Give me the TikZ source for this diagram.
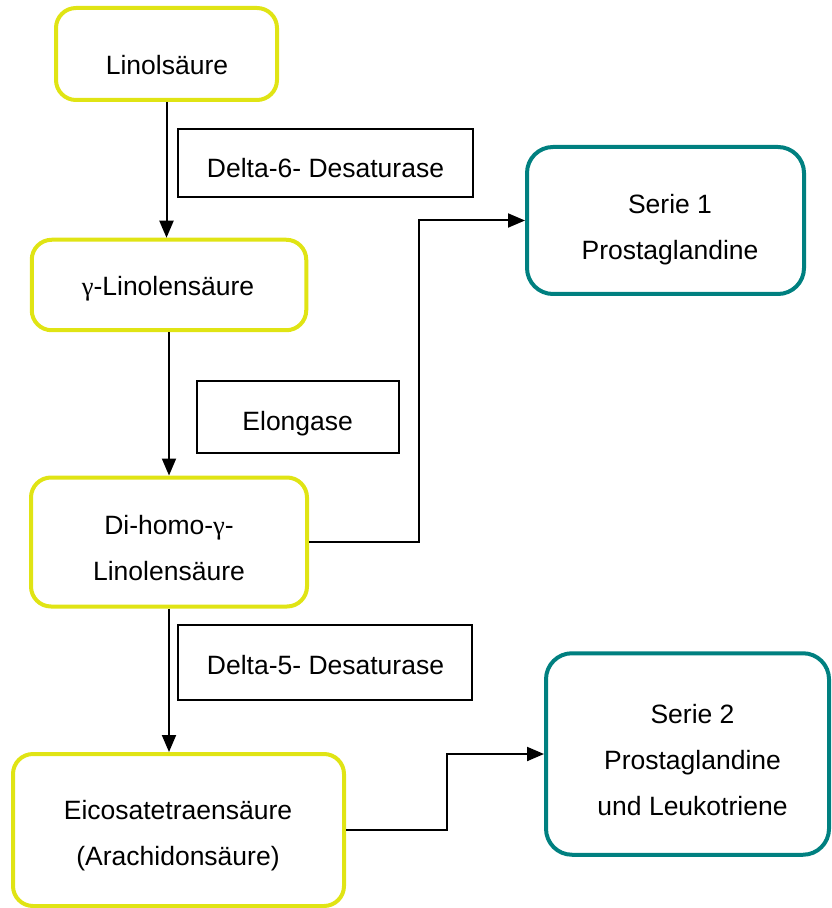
\documentclass[tikz,border=0pt]{standalone}
\usepackage{fontspec}
\setmainfont{Liberation Sans}
\newfontfamily\grkfont{Liberation Serif}
\usepackage{tikz}
\usetikzlibrary{arrows.meta,positioning}
\definecolor{lemon}{RGB}{224,228,20}
\definecolor{tealline}{RGB}{0,128,128}
\newcommand{\ggam}{{\grkfont γ}}
\tikzset{
  acid/.style={draw=lemon, line width=2pt, rounded corners=10pt, inner sep=0pt},
  series/.style={draw=tealline, line width=2pt, rounded corners=13pt, inner sep=0pt},
  enzyme/.style={draw=black, line width=1pt, inner sep=0pt},
  lbl/.style={inner sep=0pt, align=center},
  arr/.style={line width=1pt, -{Triangle[length=8.5pt,width=7pt]}}
}
\begin{document}
\begin{tikzpicture}[x=0.5pt,y=-0.5pt,font=\fontsize{13.25}{23}\selectfont]
\useasboundingbox (0,0) rectangle (831,908);
% Fettsaeuren
\node[acid, minimum width=110.5pt, minimum height=46pt] (lin) at (166.5,54) {};
\node[acid, minimum width=137.25pt, minimum height=45.25pt] (gam) at (169,285) {};
\node[acid, minimum width=138pt, minimum height=64.5pt] (dih) at (169,542) {};
\node[acid, minimum width=165.5pt, minimum height=76pt] (eic) at (178.5,830) {};
\node[lbl, anchor=base] (lintxt) at (167,75) {Linols\"aure};
\node[lbl, anchor=base] (gamtxt) at (168,296) {\ggam-Linolens\"aure};
\node[lbl] (dihtxt) at (169,548.2) {Di-homo-\ggam-\\Linolens\"aure};
\node[lbl] (eictxt) at (178,836) {Eicosatetraens\"aure\\(Arachidons\"aure)};
% Enzyme
\node[enzyme, minimum width=147.5pt, minimum height=34pt] (d6) at (325.5,163) {};
\node[enzyme, minimum width=101pt, minimum height=36pt] (elo) at (298,417) {};
\node[enzyme, minimum width=147.25pt, minimum height=37.5pt] (d5) at (325,662.5) {};
\node[lbl, anchor=base] (d6txt) at (325.5,177.3) {Delta-6- Desaturase};
\node[lbl, anchor=base] (elotxt) at (297.7,430) {Elongase};
\node[lbl, anchor=base] (d5txt) at (325.5,674) {Delta-5- Desaturase};
% Prostaglandine
\node[series, minimum width=138.5pt, minimum height=73.5pt] (s1) at (665.5,220.5) {};
\node[series, minimum width=141.5pt, minimum height=100.75pt] (s2) at (687.5,754) {};
\node[lbl] (s1txt) at (670,229.7) {Serie 1\\Prostaglandine};
\node[lbl] (s2txt) at (692.5,759.9) {Serie 2\\Prostaglandine\\und Leukotriene};
% Pfeile
\draw[arr] (lin.south) -- (lin.south |- gam.north);
\draw[arr] (gam.south) -- (dih.north);
\draw[arr] (dih.south) -- (dih.south |- eic.north);
\draw[arr] (dih.east) -- ++(110,0) |- (s1.west);
\draw[arr] (eic.east) -- ++(101,0) |- (s2.west);
\end{tikzpicture}
\end{document}
